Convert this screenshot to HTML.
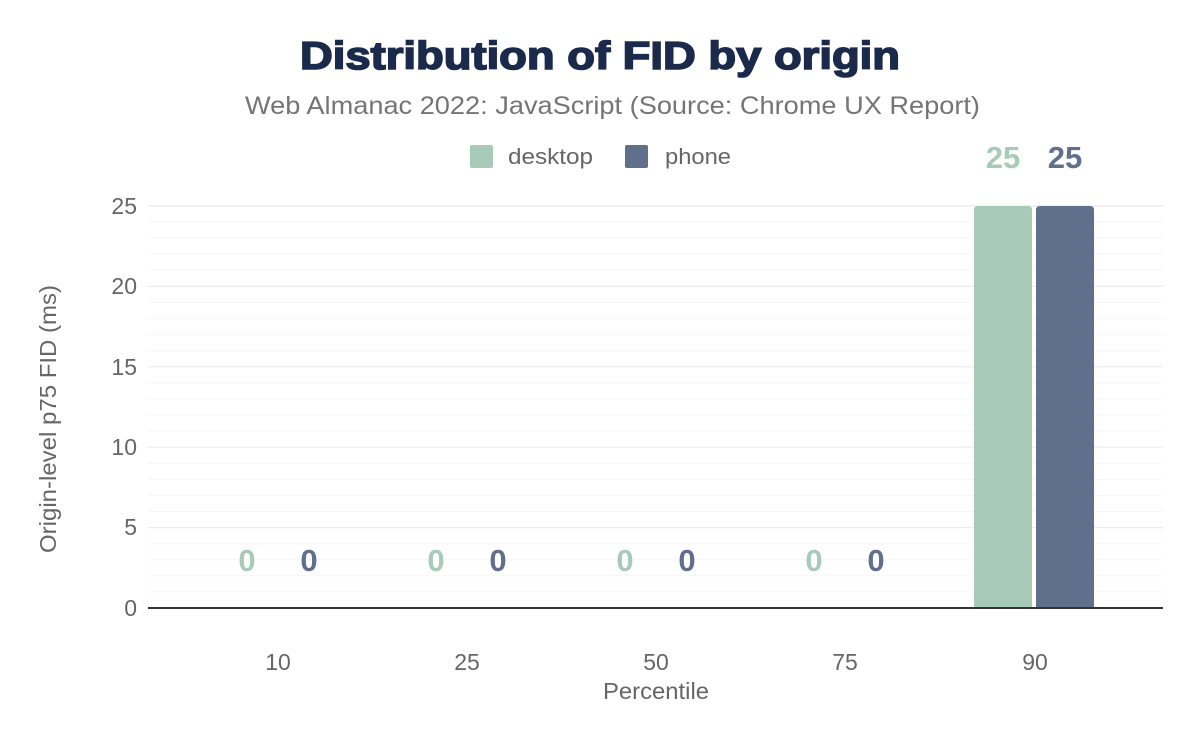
<!DOCTYPE html>
<html><head><meta charset="utf-8"><style>
html,body{margin:0;padding:0;background:#fff;}
svg{display:block;font-family:"Liberation Sans",Arial,sans-serif;}
</style></head><body>
<svg width="1200" height="742" viewBox="0 0 1200 742" xmlns="http://www.w3.org/2000/svg">
<rect width="1200" height="742" fill="#fff"/>
<text x="300" y="69" font-size="39" font-weight="bold" fill="#1b2a4a" stroke="#1b2a4a" stroke-width="1.6" textLength="600" lengthAdjust="spacingAndGlyphs">Distribution of FID by origin</text>
<text x="245" y="114" font-size="25" fill="#757575" textLength="735" lengthAdjust="spacingAndGlyphs">Web Almanac 2022: JavaScript (Source: Chrome UX Report)</text>
<rect x="470" y="145" width="23" height="23" rx="2" fill="#a8cbb9"/>
<text x="508" y="164" font-size="22" fill="#666" textLength="85" lengthAdjust="spacingAndGlyphs">desktop</text>
<rect x="625" y="145" width="23" height="23" rx="2" fill="#5f6f8c"/>
<text x="665" y="164" font-size="22" fill="#666" textLength="66" lengthAdjust="spacingAndGlyphs">phone</text>
<g stroke="#f5f5f5" stroke-width="1">
<line x1="148" x2="1163" y1="222.1" y2="222.1"/><line x1="148" x2="1163" y1="238.2" y2="238.2"/><line x1="148" x2="1163" y1="254.2" y2="254.2"/><line x1="148" x2="1163" y1="270.3" y2="270.3"/>
<line x1="148" x2="1163" y1="302.5" y2="302.5"/><line x1="148" x2="1163" y1="318.6" y2="318.6"/><line x1="148" x2="1163" y1="334.6" y2="334.6"/><line x1="148" x2="1163" y1="350.7" y2="350.7"/>
<line x1="148" x2="1163" y1="382.9" y2="382.9"/><line x1="148" x2="1163" y1="399" y2="399"/><line x1="148" x2="1163" y1="415" y2="415"/><line x1="148" x2="1163" y1="431.1" y2="431.1"/>
<line x1="148" x2="1163" y1="463.3" y2="463.3"/><line x1="148" x2="1163" y1="479.4" y2="479.4"/><line x1="148" x2="1163" y1="495.4" y2="495.4"/><line x1="148" x2="1163" y1="511.5" y2="511.5"/>
<line x1="148" x2="1163" y1="543.7" y2="543.7"/><line x1="148" x2="1163" y1="559.8" y2="559.8"/><line x1="148" x2="1163" y1="575.8" y2="575.8"/><line x1="148" x2="1163" y1="591.9" y2="591.9"/>
</g>
<g stroke="#ebebeb" stroke-width="1.2">
<line x1="148" x2="1163" y1="206" y2="206"/><line x1="148" x2="1163" y1="286.4" y2="286.4"/><line x1="148" x2="1163" y1="366.8" y2="366.8"/><line x1="148" x2="1163" y1="447.2" y2="447.2"/><line x1="148" x2="1163" y1="527.6" y2="527.6"/>
</g>
<g font-size="23" fill="#666" text-anchor="end">
<text x="137" y="214">25</text><text x="137" y="294">20</text><text x="137" y="375">15</text><text x="137" y="455">10</text><text x="137" y="535">5</text><text x="137" y="616">0</text>
</g>
<path d="M974,608 V210 Q974,206 978,206 H1028 Q1032,206 1032,210 V608 Z" fill="#a8cbb9"/>
<path d="M1036,608 V210 Q1036,206 1040,206 H1090 Q1094,206 1094,210 V608 Z" fill="#5f6f8c"/>
<line x1="148" x2="1163" y1="608" y2="608" stroke="#333" stroke-width="2"/>
<g font-size="31" font-weight="bold" text-anchor="middle">
<text x="247" y="571" fill="#a8cbb9">0</text><text x="309" y="571" fill="#5f6f8c">0</text>
<text x="436" y="571" fill="#a8cbb9">0</text><text x="498" y="571" fill="#5f6f8c">0</text>
<text x="625" y="571" fill="#a8cbb9">0</text><text x="687" y="571" fill="#5f6f8c">0</text>
<text x="814" y="571" fill="#a8cbb9">0</text><text x="876" y="571" fill="#5f6f8c">0</text>
<text x="1003" y="168" fill="#a8cbb9">25</text><text x="1065" y="168" fill="#5f6f8c">25</text>
</g>
<g font-size="23" fill="#666" text-anchor="middle">
<text x="278" y="670">10</text><text x="467" y="670">25</text><text x="656" y="670">50</text><text x="845" y="670">75</text><text x="1035" y="670">90</text>
<text x="603" y="699" text-anchor="start" font-size="23" textLength="106" lengthAdjust="spacingAndGlyphs">Percentile</text>
<text transform="translate(56,553) rotate(-90)" text-anchor="start" font-size="23" textLength="268" lengthAdjust="spacingAndGlyphs">Origin-level p75 FID (ms)</text>
</g>
</svg>
</body></html>
